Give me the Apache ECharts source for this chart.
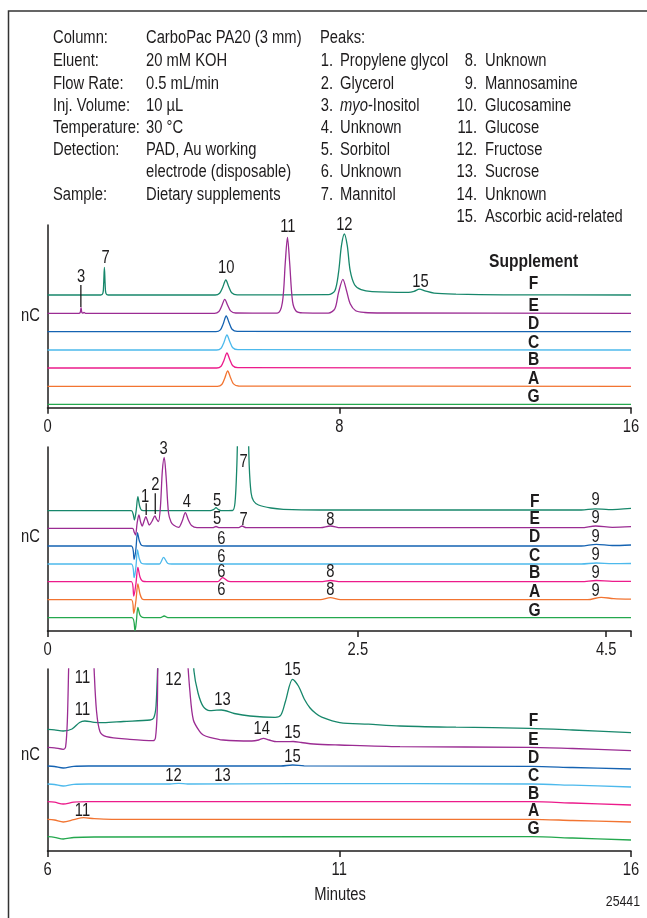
<!DOCTYPE html>
<html>
<head>
<meta charset="utf-8">
<script src="https://cdn.jsdelivr.net/npm/echarts@6/dist/echarts.min.js"></script>
<style>
html,body{margin:0;padding:0;background:#fff;}
#c{width:647px;height:918px;}
</style>
</head>
<body>
<div id="c"></div>
<script>
// ---------- DATA (time in minutes, signal in arbitrary nC units, traces offset) ----------
const traceNames = ['F','E','D','C','B','A','G'];
const traceColors = ['#17876b','#9b2c93','#1563b2','#4cb9ec','#ec1b8b','#f27431','#24a84e'];

// Panel 1: 0-16 min
const p1F = [[0,112.7],[1.46,112.7],[1.52,114.5],[1.54,124],[1.56,140.4],[1.58,124],[1.6,114.5],[1.66,112.7],[4.6,112.7],[4.72,114.5],[4.8,120],[4.89,127.7],[4.97,121],[5.05,115],[5.2,112.9],[7.7,113],[7.88,117],[7.98,135],[8.06,162],[8.14,173.7],[8.22,162],[8.3,137],[8.42,123],[8.6,118],[8.9,116],[9.9,115.3],[10.05,116.3],[10.2,118.5],[10.35,116.8],[10.6,114.6],[11.2,113.6],[12.5,112.9],[16,112.7]];
const p1E = [[0,94.4],[0.86,94.4],[0.9,95.5],[0.92,100],[0.94,95.5],[0.97,94.6],[1.0,95.3],[1.04,94.4],[4.58,94.4],[4.7,96.2],[4.78,102],[4.86,108.4],[4.94,102.5],[5.02,96.8],[5.16,94.7],[6.3,94.5],[6.44,105],[6.52,145],[6.58,170.4],[6.64,145],[6.72,106],[6.82,96.5],[7.0,94.8],[7.7,94.6],[7.88,99],[7.98,115],[8.1,128.4],[8.2,117],[8.3,104],[8.45,97],[8.7,95.2],[9.2,94.7],[16,94.4]];
const p1D = [[0,76],[4.62,76],[4.74,77.8],[4.82,84],[4.9,91.7],[4.98,85],[5.06,78.5],[5.2,76.3],[16,76]];
const p1C = [[0,57.7],[4.64,57.7],[4.76,59.5],[4.84,65.5],[4.92,72.7],[5.0,66],[5.08,60],[5.22,58],[16,57.7]];
const p1B = [[0,39.7],[4.64,39.7],[4.76,41.5],[4.84,47.5],[4.92,54.7],[5.0,48],[5.08,42],[5.22,40],[16,39.7]];
const p1A = [[0,21.4],[4.66,21.4],[4.78,23.2],[4.86,29.5],[4.94,36.7],[5.02,30],[5.1,23.8],[5.24,21.7],[16,21.4]];
const p1G = [[0,3.4],[16,3.4]];

// Panel 2: 0-4.7 min
const p2F = [[0,120.3],[0.675,120.3],[0.69,117],[0.7,111],[0.714,120],[0.728,134.3],[0.742,125],[0.76,120.6],[0.8,120.3],[1.31,120.3],[1.34,121.6],[1.357,123.3],[1.375,121.6],[1.4,120.3],[1.49,120.5],[1.51,128],[1.525,165],[1.54,230],[1.575,280],[1.61,230],[1.625,165],[1.64,138],[1.66,130],[1.7,126],[1.8,123],[1.9,121.7],[2.2,121],[4.3,121],[4.41,122.2],[4.52,121.4],[4.7,122.7]];
const p2E = [[0,102.7],[0.685,102.7],[0.698,99],[0.709,96],[0.722,108],[0.736,116],[0.75,109],[0.763,105],[0.778,110],[0.792,114.3],[0.806,110],[0.82,106],[0.843,110],[0.865,115],[0.88,111.5],[0.894,109.3],[0.91,125],[0.925,160],[0.94,173.7],[0.955,155],[0.975,117.7],[0.995,109],[1.015,106],[1.056,103.7],[1.085,110],[1.11,118.3],[1.135,111],[1.16,105.5],[1.204,103.3],[1.33,103.3],[1.357,104.5],[1.385,103.3],[1.54,103.3],[1.567,105],[1.6,103.3],[2.2,103.3],[2.278,105],[2.36,103.3],[4.3,103.3],[4.415,105],[4.55,103.7],[4.7,104.3]];
const p2D = [[0,85],[0.675,85],[0.698,71.7],[0.712,82],[0.725,98.3],[0.74,90],[0.76,85.5],[0.8,85],[4.3,85],[4.42,86.7],[4.55,85.5],[4.7,86]];
const p2C = [[0,67],[0.675,67],[0.698,53.3],[0.712,64],[0.725,81],[0.74,72],[0.76,67.5],[0.8,67],[0.9,67],[0.935,73.7],[0.97,67.5],[1.0,67],[4.3,67],[4.42,68],[4.55,67.3],[4.7,67.5]];
const p2B = [[0,49.3],[0.675,49.3],[0.695,35],[0.712,47],[0.728,63.7],[0.745,54],[0.765,49.8],[0.8,49.3],[1.37,49.3],[1.41,53.3],[1.46,49.6],[1.5,49.3],[2.2,49.3],[2.28,50.5],[2.36,49.3],[4.3,49.3],[4.42,50.5],[4.55,49.6],[4.7,49.7]];
const p2A = [[0,31.3],[0.675,31.3],[0.695,17.7],[0.712,30],[0.728,47],[0.745,37],[0.765,31.8],[0.8,31.3],[2.2,31.3],[2.278,33.3],[2.36,31.3],[4.35,31.3],[4.46,33.7],[4.56,32.4],[4.7,31.9]];
const p2G = [[0,13.3],[0.68,13.3],[0.705,0.3],[0.716,10],[0.728,23.7],[0.745,16],[0.765,13.6],[0.8,13.3],[0.91,13.3],[0.94,15],[0.97,13.3],[4.7,13.3]];

// Panel 3: 6-16 min
const p3F = [[6,121.7],[6.12,121.2],[6.27,120],[6.42,122],[6.55,128.5],[6.64,130],[6.8,128.7],[6.96,128.3],[7.3,129.5],[7.76,131],[7.82,133],[7.86,145],[7.9,200],[7.95,240],[8.45,240],[8.51,180],[8.58,158],[8.67,144.3],[8.78,140.3],[8.9,140.8],[8.98,141],[9.2,137.5],[9.47,135],[9.9,133.7],[10.0,136],[10.08,150],[10.2,171.7],[10.3,165],[10.4,152],[10.5,143],[10.6,137.5],[10.7,133.8],[11.01,128.3],[11.5,126.8],[12.04,125],[13,123.8],[14.26,122.7],[15,121],[16,118.3]];
const p3E = [[6,103.7],[6.12,103.2],[6.27,101.7],[6.31,104],[6.34,130],[6.37,200],[6.4,240],[6.76,240],[6.8,180],[6.84,140],[6.9,119.3],[7.01,114.3],[7.41,111.7],[7.81,110.3],[7.85,113],[7.88,140],[7.92,240],[8.35,240],[8.39,200],[8.44,160],[8.5,131],[8.61,119.3],[8.67,116],[8.78,113.7],[9.01,111],[9.5,110],[9.62,111],[9.7,112.7],[9.8,111],[9.93,109.3],[10.1,109.3],[10.21,109.5],[10.35,108.5],[10.56,107],[11,106],[12.04,104.3],[14.26,103.7],[15,102.5],[16,100.3]];
const p3D = [[6,85],[6.12,84.5],[6.27,83],[6.45,84.7],[6.7,85],[10.0,85],[10.2,86],[10.4,85.2],[14.3,84.7],[15,83.5],[16,82]];
const p3C = [[6,67],[6.12,66.5],[6.27,65],[6.45,66.7],[6.7,67],[8.1,67],[8.25,67.6],[8.4,67],[10.2,67.4],[14.3,67],[15,65.8],[16,64]];
const p3B = [[6,49.3],[6.12,48.8],[6.27,47],[6.45,48.8],[6.7,49.3],[14.3,49.3],[15,48],[16,46]];
const p3A = [[6,31.7],[6.12,31],[6.27,29],[6.45,31.3],[6.62,33.3],[6.8,32.3],[7.1,31.7],[14.3,31.7],[15,30.5],[16,29]];
const p3G = [[6,14.3],[6.12,13.7],[6.27,12],[6.45,13.5],[6.8,14],[14.3,14.3],[15,13],[16,11]];

// Axis ranges and tick labels
const xRanges = [[0,16],[0,4.7],[6,16]];
const yMaxes = [182.7,184,182];
const p1Ticks = [0,8,16];
const p2Ticks = [0,2.5,4.5];
const p2TickMarks = [0,2.5,4.5,4.7];
const p3Ticks = [6,11,16];

// Peak annotations [time, signal, text]
const p1Labels = [[0.92,131,'3'],[1.59,149.4,'7'],[4.9,140,'10'],[6.59,181,'11'],[8.14,182.7,'12'],[10.23,126,'15']];
const p2Labels = [[0.787,134.3,'1'],[0.868,146,'2'],[0.935,181.7,'3'],[1.123,129.3,'4'],[1.366,130.3,'5'],[1.58,169.3,'7'],[1.366,112,'5'],[1.58,111,'7'],[2.278,111,'8'],[1.4,92,'6'],[1.4,74.3,'6'],[1.4,59,'6'],[2.278,59,'8'],[1.4,41,'6'],[2.278,41,'8'],[4.414,131,'9'],[4.414,113.3,'9'],[4.414,94.3,'9'],[4.414,76,'9'],[4.414,58.3,'9'],[4.414,40.3,'9']];
const p3Labels = [[6.6,172.7,'11'],[6.6,141,'11'],[8.16,171,'12'],[9.0,151,'13'],[10.2,181,'15'],[9.67,121.7,'14'],[10.2,118.3,'15'],[10.2,93.7,'15'],[8.16,75,'12'],[9.0,75,'13'],[6.6,40.3,'11']];
// Supplement letters [time, signal, text]
const p1Letters = [[13.33,146,'Supplement'],[13.33,124.4,'F'],[13.33,101.7,'E'],[13.33,83.7,'D'],[13.33,65,'C'],[13.33,47.7,'B'],[13.33,28.7,'A'],[13.33,11,'G']];
const p2Letters = [[3.924,129.3,'F'],[3.924,112,'E'],[3.924,94.3,'D'],[3.924,75,'C'],[3.924,58,'B'],[3.924,39.3,'A'],[3.924,20,'G']];
const p3Letters = [[14.33,130.3,'F'],[14.33,111.7,'E'],[14.33,93.3,'D'],[14.33,75.3,'C'],[14.33,57.7,'B'],[14.33,40,'A'],[14.33,22.7,'G']];
// Leader lines [panel, time, signal from, signal to]
const leaderLines = [[0,0.915,122.7,100.7],[1,0.795,127.7,116],[1,0.868,137.7,117]];

// Header text
const condLabels = ['Column:','Eluent:','Flow Rate:','Inj. Volume:','Temperature:','Detection:','','Sample:'];
const condValues = ['CarboPac PA20 (3 mm)','20 mM KOH','0.5 mL/min','10 µL','30 °C','PAD, Au working','electrode (disposable)','Dietary supplements'];
const peakNames = ['Propylene glycol','Glycerol','{i|myo}-Inositol','Unknown','Sorbitol','Unknown','Mannitol','Unknown','Mannosamine','Glucosamine','Glucose','Fructose','Sucrose','Unknown','Ascorbic acid-related'];

// ---------- CHART ----------
const FONT = '"Liberation Sans",Arial,Helvetica,sans-serif';
const TXT = '#1e1c1d';
const NARROW = 0.82;
const chart = echarts.init(document.getElementById('c'), null, {renderer:'canvas'});

const gridTops = [225,447,669];
const panels = [
  [p1F,p1E,p1D,p1C,p1B,p1A,p1G],
  [p2F,p2E,p2D,p2C,p2B,p2A,p2G],
  [p3F,p3E,p3D,p3C,p3B,p3A,p3G]
];
const labelSets = [p1Labels,p2Labels,p3Labels];
const letterSets = [p1Letters,p2Letters,p3Letters];
const tickLabelSets = [p1Ticks,p2Ticks,p3Ticks];
const tickMarkSets = [p1Ticks,p2TickMarks,p3Ticks];

const grids = [], xAxes = [], yAxes = [], series = [];
for (let i=0;i<3;i++){
  grids.push({left:47.5, width:583.5, top:gridTops[i], height:yMaxes[i], containLabel:false});
  xAxes.push({type:'value', gridIndex:i, min:xRanges[i][0], max:xRanges[i][1],
    axisLine:{show:true,onZero:false,lineStyle:{color:TXT,width:1.5}},
    axisTick:{show:true,customValues:tickMarkSets[i],length:6,inside:false,lineStyle:{color:TXT,width:1.5}},
    axisLabel:{show:false,customValues:tickLabelSets[i]},
    splitLine:{show:false}});
  yAxes.push({type:'value', gridIndex:i, min:0, max:yMaxes[i],
    axisLine:{show:true,onZero:false,lineStyle:{color:TXT,width:1.5}},
    axisTick:{show:false}, axisLabel:{show:false}, splitLine:{show:false}});
  panels[i].forEach((d,k)=>{
    series.push({type:'line', name:traceNames[k], xAxisIndex:i, yAxisIndex:i, data:d,
      showSymbol:false, smooth:0.3, clip:true, silent:true,
      lineStyle:{color:traceColors[k], width:1.3}, z:3});
  });
}
leaderLines.forEach(l=>{
  series.push({type:'line', xAxisIndex:l[0], yAxisIndex:l[0], data:[[l[1],l[2]],[l[1],l[3]]],
    showSymbol:false, silent:true, clip:false, lineStyle:{color:TXT,width:1.3}, z:4});
});

chart.setOption({
  animation:false,
  backgroundColor:'#ffffff',
  grid:grids, xAxis:xAxes, yAxis:yAxes, series:series
});

// ---------- TEXT (condensed look via horizontal scaling) ----------
function txt(x,y,text,align,size,bold){
  return {type:'text', x:x, y:y, scaleX:NARROW, scaleY:1, silent:true, z:10,
    style:{text:text, fontSize:size||18, fontWeight:bold?'bold':'normal', fontFamily:FONT, fill:TXT,
      textAlign:align||'left', textVerticalAlign:'middle', align:align||'left', verticalAlign:'middle'}};
}
const g = [];
g.push({type:'rect', shape:{x:8.5,y:11,width:720,height:1000}, style:{fill:'none',stroke:'#333',lineWidth:1.5}, silent:true});
const rowY = [38.5,61.5,83.7,105.9,128.1,150.3,172.5,194.7,216.9];
condLabels.forEach((t,k)=>{ if(t) g.push(txt(53,rowY[k],t)); });
condValues.forEach((t,k)=>{ g.push(txt(146,rowY[k],t)); });
g.push(txt(320,rowY[0],'Peaks:'));
peakNames.forEach((name,k)=>{
  const n = k+1;
  let nx, tx, row;
  if (n<=7){ row=n; nx=333; tx=340; } else { row=n-7; nx=477; tx=485; }
  g.push(txt(nx,rowY[row],n+'.','right'));
  const el = txt(tx,rowY[row],name);
  el.style.rich = {i:{fontStyle:'italic',fontSize:18,fontFamily:FONT,fill:TXT,color:TXT}};
  g.push(el);
});
[316,537,755].forEach(y=>g.push(txt(30.5,y,'nC','center')));
g.push(txt(340,895,'Minutes','center'));
g.push(txt(640,902,'25441','right',15));

for (let i=0;i<3;i++){
  // tick labels
  tickLabelSets[i].forEach(v=>{
    const p = chart.convertToPixel({gridIndex:i},[v,0]);
    g.push(txt(p[0],p[1]+19.5,String(v),'center'));
  });
  labelSets[i].forEach(l=>{
    const p = chart.convertToPixel({gridIndex:i},[l[0],l[1]]);
    g.push(txt(p[0],p[1],l[2],'center'));
  });
  letterSets[i].forEach(l=>{
    const p = chart.convertToPixel({gridIndex:i},[l[0],l[1]]);
    g.push(txt(p[0],p[1],l[2],'center',19,true));
  });
}
chart.setOption({graphic:g});
</script>
</body>
</html>
